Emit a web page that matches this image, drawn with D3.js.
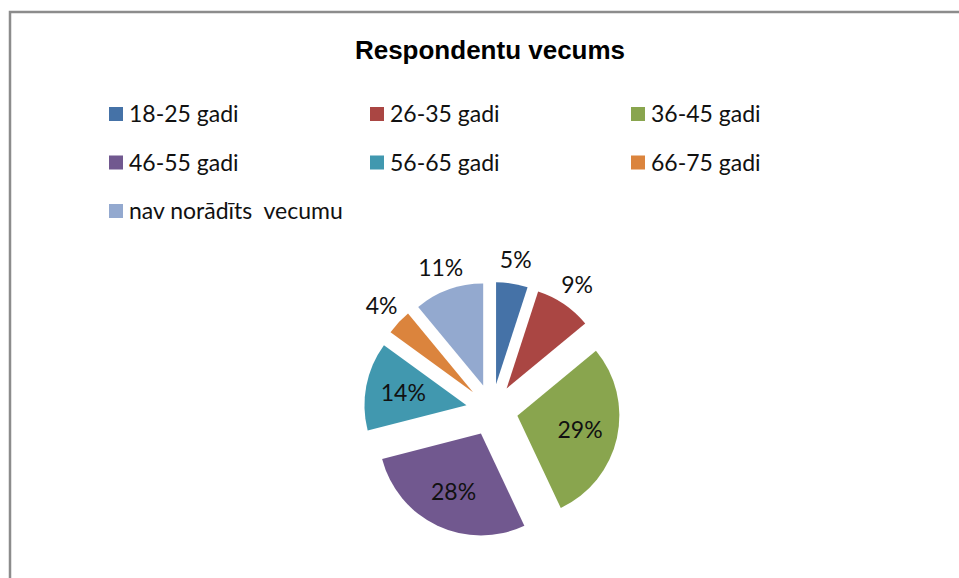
<!DOCTYPE html>
<html>
<head>
<meta charset="utf-8">
<script src="https://cdn.jsdelivr.net/npm/d3@7"></script>
<style>
  body { margin: 0; background: #fff; }
  svg { display: block; }
</style>
</head>
<body>
<svg></svg>
<script>
var width = 959;
var height = 578;

// data
var categories = ["18-25 gadi", "26-35 gadi", "36-45 gadi", "46-55 gadi", "56-65 gadi", "66-75 gadi", "nav norādīts  vecumu"];
var shares = [5, 9, 29, 28, 14, 4, 11];
var colors = ["#4572A7", "#AA4643", "#89A54E", "#71588F", "#4198AF", "#DB843D", "#93A9CF"];
var title = "Respondentu vecums";

var labelFont = "Lato, 'Open Sans', sans-serif";

var svg = d3.select("svg")
    .attr("width", width)
    .attr("height", height);

// chart frame (cropped at right and bottom)
svg.append("path")
    .attr("d", `M10,${height + 5} V12 H${width + 5}`)
    .attr("fill", "none")
    .attr("stroke", "#8c8c8c")
    .attr("stroke-width", 2.5);

svg.append("text")
    .attr("x", 490)
    .attr("y", 59)
    .attr("text-anchor", "middle")
    .style("font-family", "'Liberation Sans', Arial, sans-serif")
    .style("font-weight", "bold")
    .style("font-size", "26px")
    .text(title);

// legend, 3 per row
var legend = svg.append("g").classed("legend", true);
var colX = d3.scalePoint().domain([0, 1, 2]).range([109, 631]);
var rowY = d3.scalePoint().domain([0, 1, 2]).range([114, 211]);

var item = legend.selectAll(".item")
    .data(categories)
  .enter()
  .append("g")
    .classed("item", true)
    .attr("transform", (d, i) => `translate(${colX(i % 3)}, ${rowY(Math.floor(i / 3))})`);

item.append("rect")
    .attr("x", 0)
    .attr("y", -7)
    .attr("width", 14)
    .attr("height", 14)
    .attr("fill", (d, i) => colors[i]);

item.append("text")
    .attr("x", 20)
    .attr("y", 0)
    .attr("dy", "0.35em")
    .style("font-family", labelFont)
    .style("font-size", "23px")
    .style("white-space", "pre")
    .style("fill", "#111")
    .text(d => d);

// exploded pie
var cx = 492, cy = 410, radius = 102, explode = 26;

var arcs = d3.pie()
    .value(d => d)
    .sort(null)(shares);

var arc = d3.arc()
    .innerRadius(0)
    .outerRadius(radius);

var pie = svg.append("g")
    .attr("transform", `translate(${cx}, ${cy})`);

function mid(d) { return (d.startAngle + d.endAngle) / 2; }
function offset(d, r) {
  var a = mid(d);
  return [Math.sin(a) * r, -Math.cos(a) * r];
}

var slice = pie.selectAll(".slice")
    .data(arcs)
  .enter()
  .append("g")
    .classed("slice", true)
    .attr("transform", d => `translate(${offset(d, explode)})`);

slice.append("path")
    .attr("d", arc)
    .attr("fill", (d, i) => colors[i]);

slice.append("text")
    .attr("transform", d => `translate(${offset(d, d.data < 12 ? radius * 1.23 : radius * 0.63)})`)
    .attr("text-anchor", "middle")
    .attr("dy", "0.35em")
    .style("font-family", labelFont)
    .style("font-size", "23px")
    .style("fill", "#111")
    .text(d => d.data + "%");
</script>
</body>
</html>
